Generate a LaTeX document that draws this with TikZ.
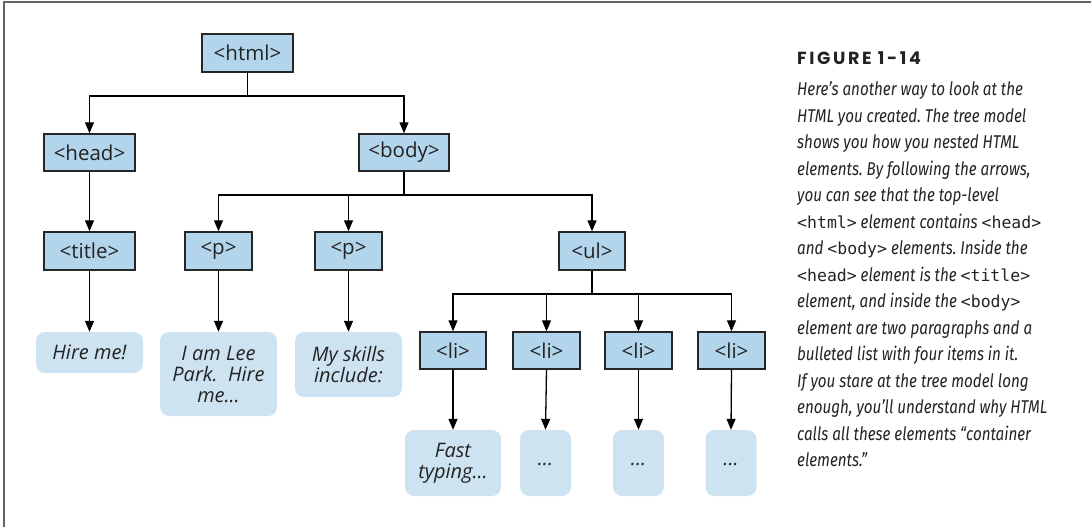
\documentclass[tikz,border=0pt]{standalone}
\usepackage{fontspec}
\setmainfont{Open Sans}
\newfontfamily\capfont[FakeStretch=0.82]{Fira Sans}
\newfontfamily\figfont[LetterSpace=15]{Poppins}
\newfontfamily\codefont{DejaVu Sans Mono}
\usetikzlibrary{arrows.meta}
\definecolor{boxblue}{RGB}{179,213,235}
\definecolor{leafblue}{RGB}{206,227,241}
\definecolor{framegray}{RGB}{100,100,100}
\definecolor{txt}{RGB}{35,35,35}
\newcommand{\mc}[1]{{\codefont\upshape\fontsize{16.5}{20}\selectfont #1}}
\frenchspacing
\begin{document}
\begin{tikzpicture}[x=1pt,y=-1pt,
  tag/.style={draw=black!85, line width=1.4pt, fill=boxblue, inner sep=0pt,
    font=\fontsize{20.5}{22}\selectfont, text=txt},
  leaf/.style={fill=leafblue, rounded corners=9pt, inner sep=0pt, align=center,
    font=\fontsize{20}{21}\selectfont\itshape, text=txt},
  arr/.style={line width=1.3pt, -{Triangle[width=9pt,length=11pt]}},
  bus/.style={line width=1.3pt},
  captxt/.style={anchor=base west, inner sep=0pt,
    font=\capfont\itshape\fontsize{18.5}{20}\selectfont, text=txt}]
\useasboundingbox (0,0) rectangle (1091,527);
\draw[framegray, line width=2pt] (3.5,527) -- (3.5,2) -- (1091,2);

% tag boxes
\node[tag, minimum width=91pt, minimum height=38pt] (html) at (247.5,53) {<html>};
\node[tag, minimum width=91pt, minimum height=37pt] (head) at (89.5,152.5) {<head>};
\node[tag, minimum width=90pt, minimum height=37pt] (body) at (404,152.5) {<body>};
\node[tag, minimum width=91pt, minimum height=38pt] (title) at (89.5,251) {<title>};
\node[tag, minimum width=67pt, minimum height=38pt] (p1) at (218.5,251) {<p>};
\node[tag, minimum width=67pt, minimum height=38pt] (p2) at (348.5,251) {<p>};
\node[tag, minimum width=66pt, minimum height=38pt] (ul) at (592,251) {<ul>};
\node[tag, minimum width=66pt, minimum height=37pt] (li1) at (453,350.5) {<li>};
\node[tag, minimum width=67pt, minimum height=37pt] (li2) at (546.5,350.5) {<li>};
\node[tag, minimum width=67pt, minimum height=37pt] (li3) at (638.5,350.5) {<li>};
\node[tag, minimum width=67pt, minimum height=37pt] (li4) at (731.5,350.5) {<li>};

% leaves
\node[leaf, minimum width=107pt, minimum height=41pt] (t1) at (89.5,352.5) {Hire me!};
\node[leaf, minimum width=117pt, minimum height=84pt] (t2) at (218.5,374) {I am Lee\\Park.\ \ Hire\\me...};
\node[leaf, minimum width=107pt, minimum height=65pt] (t3) at (348.5,364.5) {My skills\\include:};
\node[leaf, minimum width=96pt, minimum height=66pt] (t4) at (453,463) {Fast\\typing...};
\node[leaf, minimum width=51pt, minimum height=66pt] (t5) at (545.5,463) {\raisebox{-5pt}{...}};
\node[leaf, minimum width=51pt, minimum height=66pt] (t6) at (638.5,463) {\raisebox{-5pt}{...}};
\node[leaf, minimum width=51pt, minimum height=66pt] (t7) at (731,463) {\raisebox{-5pt}{...}};

% bus points
\coordinate (b1) at (247.5,96);
\coordinate (b2) at (404,195);
\coordinate (b3) at (592,294);

\draw[bus] (html.south) -- (b1);
\draw[arr] (b1) -| (head.north);
\draw[arr] (b1) -| (body.north);
\draw[arr] (head.south) -- (title.north);
\draw[bus] (body.south) -- (b2);
\draw[arr] (b2) -| (p1.north);
\draw[arr] (b2) -| (p2.north);
\draw[arr] (b2) -| (ul.north);
\draw[bus] (ul.south) -- (b3);
\draw[arr] (b3) -| (li1.north);
\draw[arr] (b3) -| (li2.north);
\draw[arr] (b3) -| (li3.north);
\draw[arr] (b3) -| (li4.north);
\draw[arr] (title.south) -- (t1.north);
\draw[arr] (p1.south) -- (t2.north);
\draw[arr] (p2.south) -- (t3.north);
\draw[arr] (li1.south) -- (t4.north);
\draw[arr] (li2.south) -- (t5.north);
\draw[arr] (li3.south) -- (t6.north);
\draw[arr] (li4.south) -- (t7.north);

% caption
\node[anchor=base west, inner sep=0pt, text=txt, font=\figfont\bfseries\fontsize{17.5}{20}\selectfont] (fig) at (797,64) {FIGURE 1-14};
\node[captxt] (c1) at (797,95.5) {Here’s another way to look at the};
\node[captxt] (c2) at (797,122) {HTML you created. The tree model};
\node[captxt] (c3) at (797,148.5) {shows you how you nested HTML};
\node[captxt] (c4) at (797,175) {elements. By following the arrows,};
\node[captxt] (c5) at (797,201.5) {you can see that the top-level};
\node[captxt] (c6) at (797,228) {\mc{<html>} element contains \mc{<head>}};
\node[captxt] (c7) at (797,254.5) {and \mc{<body>} elements. Inside the};
\node[captxt] (c8) at (797,281) {\mc{<head>} element is the \mc{<title>}};
\node[captxt] (c9) at (797,307.5) {element, and inside the \mc{<body>}};
\node[captxt] (c10) at (797,334) {element are two paragraphs and a};
\node[captxt] (c11) at (797,360.5) {bulleted list with four items in it.};
\node[captxt] (c12) at (797,387) {If you stare at the tree model long};
\node[captxt] (c13) at (797,413.5) {enough, you’ll understand why HTML};
\node[captxt] (c14) at (797,440) {calls all these elements “container};
\node[captxt] (c15) at (797,466.5) {elements.”};
\end{tikzpicture}
\end{document}
